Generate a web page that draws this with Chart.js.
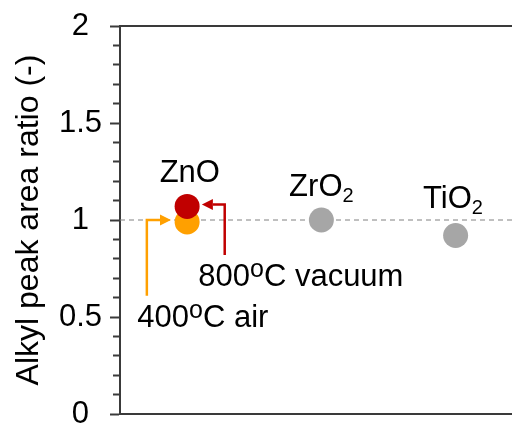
<!DOCTYPE html>
<html>
<head>
<meta charset="utf-8">
<script src="https://cdn.jsdelivr.net/npm/chart.js@4/dist/chart.umd.min.js"></script>
<style>
  html, body { margin: 0; padding: 0; background: #fff; overflow: hidden; }
  canvas { display: block; }
</style>
</head>
<body>
<canvas id="chart" width="512" height="425"></canvas>
<script>
// Oxide supports and alkyl peak area ratios
const supports = ['ZnO', 'ZrO₂', 'TiO₂'];
const supportPos = [1, 2, 3];
const znoAir400 = [0.99];          // ZnO, 400ºC air
const znoVacuum800 = [1.07];       // ZnO, 800ºC vacuum
const otherOxides = [1.00, 0.92];  // ZrO2, TiO2
const referenceRatio = 1;

const FONT = '"Liberation Sans", Arial, sans-serif';
const AXIS_COLOR = '#3a3a3a';
const X_MIN = 0.5, X_MAX = 3.42;

// Callout text and arrows, in data coordinates
const notes = [
  { text: supports[0], x: 1.02, y: 1.196, align: 'center' },
  { text: supports[1], x: 2.0,  y: 1.124, align: 'center' },
  { text: supports[2], x: 2.98, y: 1.062, align: 'center' },
  { text: '800ºC vacuum', x: 1.083, y: 0.661, align: 'left' },
  { text: '400ºC air',    x: 0.629, y: 0.45,  align: 'left' }
];
const arrows = [
  { color: '#FFA000', path: [[0.70, 0.61], [0.70, 1.0], [0.88, 1.0]] },
  { color: '#C00000', path: [[1.28, 0.82], [1.28, 1.08], [1.11, 1.08]] }
];

function isMajor(v) { return Math.abs(v * 2 - Math.round(v * 2)) < 1e-6; }

// Draw text where º becomes a raised "o" and ₂ a lowered "2"
function drawRich(ctx, text, x, y, align) {
  const segs = [];
  for (const ch of text) {
    if (ch === 'º') segs.push({ t: 'o', size: 25, dy: -9 });
    else if (ch === '₂') segs.push({ t: '2', size: 20, dy: 6 });
    else {
      const last = segs[segs.length - 1];
      if (last && last.size === 31) last.t += ch;
      else segs.push({ t: ch, size: 31, dy: 0 });
    }
  }
  let total = 0;
  segs.forEach(s => { ctx.font = s.size + 'px ' + FONT; s.w = ctx.measureText(s.t).width; total += s.w; });
  let cx = align === 'center' ? x - total / 2 : x;
  ctx.fillStyle = '#000';
  ctx.textBaseline = 'alphabetic';
  ctx.textAlign = 'left';
  segs.forEach(s => {
    ctx.font = s.size + 'px ' + FONT;
    ctx.fillText(s.t, cx, y + s.dy);
    cx += s.w;
  });
}

const notesPlugin = {
  id: 'notes',
  afterDatasetsDraw(chart) {
    const { ctx, scales: { x, y } } = chart;
    ctx.save();
    arrows.forEach(a => {
      const pts = a.path.map(([vx, vy]) => [x.getPixelForValue(vx), y.getPixelForValue(vy)]);
      const n = pts.length;
      const [tx, ty] = pts[n - 1];
      const [px, py] = pts[n - 2];
      const len = Math.hypot(tx - px, ty - py);
      const ux = (tx - px) / len, uy = (ty - py) / len;
      const head = 11, half = 5.5;
      ctx.strokeStyle = a.color;
      ctx.fillStyle = a.color;
      ctx.lineWidth = 2.5;
      ctx.lineJoin = 'miter';
      ctx.beginPath();
      ctx.moveTo(pts[0][0], pts[0][1]);
      for (let i = 1; i < n - 1; i++) ctx.lineTo(pts[i][0], pts[i][1]);
      ctx.lineTo(tx - ux * head, ty - uy * head);
      ctx.stroke();
      ctx.beginPath();
      ctx.moveTo(tx, ty);
      ctx.lineTo(tx - ux * head - uy * half, ty - uy * head + ux * half);
      ctx.lineTo(tx - ux * head + uy * half, ty - uy * head - ux * half);
      ctx.closePath();
      ctx.fill();
    });
    notes.forEach(nt => drawRich(ctx, nt.text, x.getPixelForValue(nt.x), y.getPixelForValue(nt.y), nt.align));
    ctx.restore();
  }
};

Chart.defaults.font.family = FONT;

new Chart(document.getElementById('chart'), {
  type: 'scatter',
  data: {
    datasets: [
      {
        label: '800ºC vacuum',
        data: znoVacuum800.map((v, i) => ({ x: supportPos[i], y: v })),
        backgroundColor: '#C00000', borderWidth: 0, pointRadius: 12.5, order: 1
      },
      {
        label: '400ºC air',
        data: znoAir400.map((v, i) => ({ x: supportPos[i], y: v })),
        backgroundColor: '#FFA000', borderWidth: 0, pointRadius: 12.5, order: 2
      },
      {
        label: 'ZrO₂ / TiO₂',
        data: otherOxides.map((v, i) => ({ x: supportPos[i + 1], y: v })),
        backgroundColor: '#A6A6A6', borderWidth: 0, pointRadius: 12.5, order: 3
      },
      {
        type: 'line',
        label: 'reference',
        data: [{ x: X_MIN, y: referenceRatio }, { x: X_MAX, y: referenceRatio }],
        borderColor: '#808080', borderWidth: 1, borderDash: [5, 4],
        pointRadius: 0, order: 10
      }
    ]
  },
  options: {
    responsive: false,
    animation: false,
    devicePixelRatio: 1,
    layout: { padding: 0, autoPadding: false },
    plugins: { legend: { display: false }, tooltip: { enabled: false } },
    scales: {
      x: {
        type: 'linear', position: 'bottom', min: X_MIN, max: X_MAX,
        ticks: { display: false }, grid: { display: false },
        border: { display: true, color: AXIS_COLOR, width: 2 },
        afterFit(s) { s.height = 11; s.paddingLeft = 0; s.paddingRight = 0; }
      },
      xTop: {
        type: 'linear', position: 'top', min: X_MIN, max: X_MAX,
        ticks: { display: false }, grid: { display: false },
        border: { display: true, color: AXIS_COLOR, width: 2 },
        afterFit(s) { s.height = 26; s.paddingLeft = 0; s.paddingRight = 0; }
      },
      y: {
        type: 'linear', position: 'left', min: 0, max: 2,
        ticks: {
          stepSize: 0.1, autoSkip: false, padding: 8, crossAlign: 'center',
          color: '#000', font: { size: 31 },
          callback: v => isMajor(v) ? String(Math.round(v * 10) / 10) : ''
        },
        grid: {
          drawOnChartArea: false, drawTicks: true, tickLength: 10,
          tickWidth: 2, tickColor: AXIS_COLOR,
          tickBorderDash: c => (c.tick && isMajor(c.tick.value)) ? [] : [0, 3, 20]
        },
        border: { display: true, color: AXIS_COLOR, width: 2 },
        title: {
          display: true, text: 'Alkyl peak area ratio (-)', color: '#000',
          font: { size: 32 }, padding: { top: 10, bottom: 0 }
        },
        afterFit(s) { s.width = 120; s.paddingTop = 0; s.paddingBottom = 0; }
      }
    }
  },
  plugins: [notesPlugin]
});
</script>
</body>
</html>
